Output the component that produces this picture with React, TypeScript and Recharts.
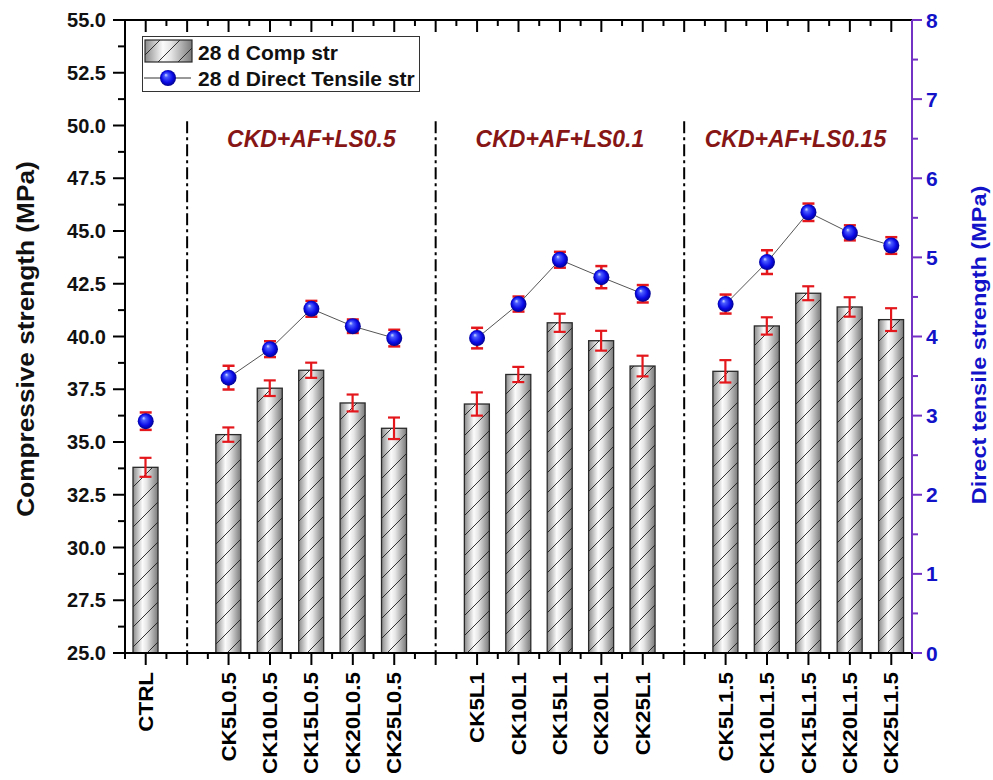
import React from "react";
import {
  ComposedChart,
  Bar,
  Line,
  XAxis,
  YAxis,
  ErrorBar,
  ReferenceLine,
  ReferenceDot,
  Legend,
} from "recharts";

// ---- data ----
const categories = [
  "CTRL", "gap1",
  "CK5L0.5", "CK10L0.5", "CK15L0.5", "CK20L0.5", "CK25L0.5", "gap2",
  "CK5L1", "CK10L1", "CK15L1", "CK20L1", "CK25L1", "gap3",
  "CK5L1.5", "CK10L1.5", "CK15L1.5", "CK20L1.5", "CK25L1.5",
];
const compStr = [33.8, null, 35.35, 37.55, 38.4, 36.85, 35.65, null, 36.8, 38.2, 40.65, 39.8, 38.6, null, 38.35, 40.5, 42.05, 41.4, 40.8];
const compErr = [0.45, undefined, 0.34, 0.37, 0.36, 0.4, 0.51, undefined, 0.55, 0.36, 0.43, 0.47, 0.49, undefined, 0.53, 0.41, 0.33, 0.46, 0.54];
const tensileStr = [2.93, null, 3.48, 3.84, 4.35, 4.13, 3.98, null, 3.98, 4.41, 4.97, 4.75, 4.54, null, 4.41, 4.94, 5.57, 5.31, 5.15];
const tensileErr = [0.11, undefined, 0.15, 0.1, 0.1, 0.085, 0.105, undefined, 0.13, 0.095, 0.1, 0.14, 0.11, undefined, 0.12, 0.15, 0.11, 0.095, 0.105];

const dividers = ["gap1", "gap2", "gap3"];
const groupAt = ["CK15L0.5", "CK15L1", "CK15L1.5"];
const groupText = ["CKD+AF+LS0.5", "CKD+AF+LS0.1", "CKD+AF+LS0.15"];

const leftTicks = [25, 26.25, 27.5, 28.75, 30, 31.25, 32.5, 33.75, 35, 36.25, 37.5, 38.75, 40, 41.25, 42.5, 43.75, 45, 46.25, 47.5, 48.75, 50, 51.25, 52.5, 53.75, 55];
const rightTicks = [0, 0.5, 1, 1.5, 2, 2.5, 3, 3.5, 4, 4.5, 5, 5.5, 6, 6.5, 7, 7.5, 8];

const data = categories.map((name, i) => ({
  name,
  comp: compStr[i],
  compErr: compErr[i],
  tens: tensileStr[i],
  tensErr: tensileErr[i],
}));

// ---- layout ----
const W = 993;
const H = 780;
const MARGIN = { top: 20, right: 31, bottom: 0, left: 0 };
const LEFT_W = 125;
const RIGHT_W = 50;
const XAXIS_H = 127;
const PLOT_W = W - MARGIN.left - MARGIN.right - LEFT_W - RIGHT_W;
const BAND = PLOT_W / categories.length;
const PLOT_TOP = MARGIN.top;

const FONT = "'Liberation Sans', Arial, sans-serif";
const RED = "#e3171c";
const BLUE = "#1212c8";
const PURPLE = "#7432c4";
const MAROON = "#861515";
const groupLabelDx = [0, 0, -13];

function XTick(props: any) {
  const { x, y, payload, index } = props;
  const name = String(payload.value);
  const isGap = name.startsWith("gap");
  const last = index === categories.length - 1;
  return (
    <g>
      <line x1={x} y1={y} x2={x} y2={y + 12} stroke="#000" strokeWidth={2} />
      <line x1={x - BAND / 2} y1={y} x2={x - BAND / 2} y2={y + 6} stroke="#000" strokeWidth={2} />
      {last && <line x1={x + BAND / 2} y1={y} x2={x + BAND / 2} y2={y + 6} stroke="#000" strokeWidth={2} />}
      <line x1={x} y1={PLOT_TOP} x2={x} y2={PLOT_TOP + 12} stroke="#000" strokeWidth={2} />
      <line x1={x - BAND / 2} y1={PLOT_TOP} x2={x - BAND / 2} y2={PLOT_TOP + 6} stroke="#000" strokeWidth={2} />
      {!isGap && (
        <text
          transform={`translate(${x},${y + 19}) rotate(-90) scale(1.12,1)`}
          textAnchor="end"
          dominantBaseline="central"
          fontFamily={FONT}
          fontWeight="bold"
          fontSize={20}
          fill="#000"
        >
          {name}
        </text>
      )}
    </g>
  );
}

function LeftTick(props: any) {
  const { x, y, payload } = props;
  const v = Number(payload.value);
  const major = Math.abs(v / 2.5 - Math.round(v / 2.5)) < 1e-6;
  return (
    <g>
      <line x1={x} y1={y} x2={x - (major ? 12 : 7)} y2={y} stroke="#000" strokeWidth={2} />
      {major && (
        <text x={x - 19} y={y} textAnchor="end" dominantBaseline="central" fontFamily={FONT} fontWeight="bold" fontSize={20} fill="#111">
          {v.toFixed(1)}
        </text>
      )}
    </g>
  );
}

function RightTick(props: any) {
  const { x, y, payload } = props;
  const v = Number(payload.value);
  const major = Math.abs(v - Math.round(v)) < 1e-6;
  return (
    <g>
      <line x1={x} y1={y} x2={x + (major ? 10 : 6)} y2={y} stroke={PURPLE} strokeWidth={2} />
      {major && (
        <text x={x + 14} y={y} textAnchor="start" dominantBaseline="central" fontFamily={FONT} fontWeight="bold" fontSize={21} fill={BLUE}>
          {v}
        </text>
      )}
    </g>
  );
}

function HatchedBar(props: any) {
  const { x, y, width, height } = props;
  if (!height || height <= 0 || x == null) return <g />;
  return (
    <g>
      <rect x={x} y={y} width={width} height={height} fill="url(#barGrad)" />
      <rect x={x} y={y} width={width} height={height} fill="url(#hatch)" />
      <rect x={x} y={y} width={width} height={height} fill="none" stroke="#2a2a2a" strokeWidth={1.3} />
    </g>
  );
}

function SphereDot(props: any) {
  const { cx, cy, value, index } = props;
  if (value == null || cx == null || cy == null) return <g key={`d${index}`} />;
  return <circle key={`d${index}`} cx={cx} cy={cy} r={8} fill="url(#sphere)" />;
}

function LegendBox() {
  return (
    <div style={{ width: 278, height: 56, border: "1px solid #333", boxSizing: "border-box", background: "#fff" }}>
      <svg width={276} height={54} style={{ display: "block" }}>
        <rect x={2} y={3} width={47} height={22} fill="url(#barGrad)" />
        <rect x={2} y={3} width={47} height={22} fill="url(#hatch)" />
        <rect x={2} y={3} width={47} height={22} fill="none" stroke="#2a2a2a" strokeWidth={1.2} />
        <text x={55} y={15} dominantBaseline="central" fontFamily={FONT} fontWeight="bold" fontSize={21} fill="#111">
          28 d Comp str
        </text>
        <line x1={1} y1={41} x2={48} y2={41} stroke="#333" strokeWidth={1} />
        <circle cx={25} cy={41} r={8} fill="url(#sphere)" />
        <text x={55} y={41} dominantBaseline="central" fontFamily={FONT} fontWeight="bold" fontSize={21} fill="#111">
          28 d Direct Tensile str
        </text>
      </svg>
    </div>
  );
}

export default function App() {
  return (
    <div style={{ position: "absolute", left: 0, top: 0, width: W, height: H, background: "#fff" }}>
      <ComposedChart width={W} height={H} data={data} margin={MARGIN}>
        <defs>
          <linearGradient id="barGrad" x1="0" y1="0" x2="1" y2="0">
            <stop offset="0" stopColor="#8a8a8a" />
            <stop offset="0.38" stopColor="#fbfbfb" />
            <stop offset="0.55" stopColor="#e6e6e6" />
            <stop offset="1" stopColor="#7a7a7a" />
          </linearGradient>
          <pattern id="hatch" patternUnits="userSpaceOnUse" width={20} height={20}>
            <path d="M0,20 L20,0 M-5,5 L5,-5 M15,25 L25,15" stroke="#1e1e1e" strokeWidth={0.9} />
          </pattern>
          <radialGradient id="sphere" cx="0.5" cy="0.5" r="0.55" fx="0.36" fy="0.3">
            <stop offset="0" stopColor="#d6e0ff" />
            <stop offset="0.22" stopColor="#4a5cff" />
            <stop offset="0.65" stopColor="#0a0ae6" />
            <stop offset="1" stopColor="#00007a" />
          </radialGradient>
        </defs>

        <XAxis
          dataKey="name"
          type="category"
          interval={0}
          height={XAXIS_H}
          tickSize={0}
          tickMargin={0}
          tickLine={false}
          axisLine={{ stroke: "#000", strokeWidth: 2 }}
          tick={(p: any) => <XTick {...p} />}
        />
        <YAxis
          yAxisId="left"
          orientation="left"
          width={LEFT_W}
          domain={[25, 55]}
          ticks={leftTicks}
          interval={0}
          allowDataOverflow
          tickSize={0}
          tickMargin={0}
          tickLine={false}
          axisLine={{ stroke: "#000", strokeWidth: 2 }}
          tick={(p: any) => <LeftTick {...p} />}
          label={() => (
            <text
              transform={`translate(26,339) rotate(-90) scale(1.14,1)`}
              textAnchor="middle"
              dominantBaseline="central"
              fontFamily={FONT}
              fontWeight="bold"
              fontSize={23}
              fill="#111"
            >
              Compressive strength (MPa)
            </text>
          )}
        />
        <YAxis
          yAxisId="right"
          orientation="right"
          width={RIGHT_W}
          domain={[0, 8]}
          ticks={rightTicks}
          interval={0}
          allowDataOverflow
          tickSize={0}
          tickMargin={0}
          tickLine={false}
          axisLine={{ stroke: PURPLE, strokeWidth: 2 }}
          tick={(p: any) => <RightTick {...p} />}
          label={() => (
            <text
              transform={`translate(979,345) rotate(-90) scale(1.12,1)`}
              textAnchor="middle"
              dominantBaseline="central"
              fontFamily={FONT}
              fontWeight="bold"
              fontSize={21}
              fill={BLUE}
            >
              Direct tensile strength (MPa)
            </text>
          )}
        />

        <ReferenceLine yAxisId="left" y={55} stroke="#000" strokeWidth={2} />
        {dividers.map((d) => (
          <ReferenceLine
            key={d}
            yAxisId="left"
            segment={[{ x: d, y: 50.2 }, { x: d, y: 25 }]}
            stroke="#000"
            strokeWidth={2}
            strokeDasharray="12 4 3 4"
          />
        ))}
        {groupAt.map((g, i) => (
          <ReferenceDot
            key={g}
            yAxisId="left"
            x={g}
            y={49.35}
            r={0}
            fill="none"
            stroke="none"
            label={{
              value: groupText[i],
              position: "center",
              dx: groupLabelDx[i],
              fill: MAROON,
              fontSize: 23,
              fontWeight: "bold",
              fontStyle: "italic",
              fontFamily: FONT,
            }}
          />
        ))}

        <Bar yAxisId="left" dataKey="comp" barSize={25} shape={(p: any) => <HatchedBar {...p} />} isAnimationActive={false}>
          <ErrorBar dataKey="compErr" width={6} stroke={RED} strokeWidth={2.2} direction="y" />
        </Bar>
        <Line
          yAxisId="right"
          dataKey="tens"
          type="linear"
          stroke="#555"
          strokeWidth={1}
          dot={(p: any) => <SphereDot key={`d${p.index}`} {...p} />}
          activeDot={false}
          isAnimationActive={false}
        >
          <ErrorBar dataKey="tensErr" width={6} stroke={RED} strokeWidth={2.5} direction="y" />
        </Line>

        <Legend
          verticalAlign="middle"
          align="center"
          layout="horizontal"
          content={() => <LegendBox />}
          wrapperStyle={{ left: 142, top: 36, width: 278, height: 56 }}
        />
      </ComposedChart>
    </div>
  );
}
